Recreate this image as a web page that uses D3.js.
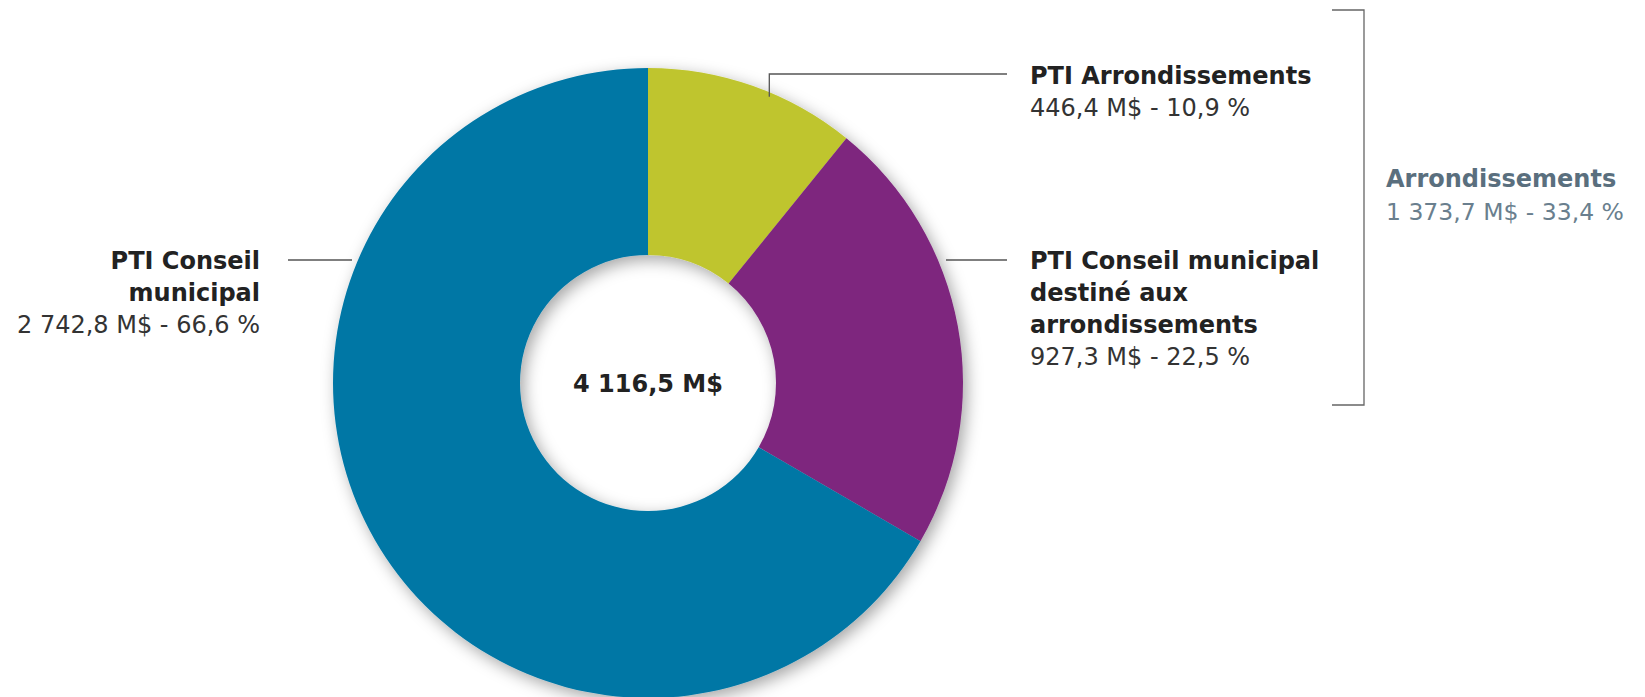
<!DOCTYPE html>
<html>
<head>
<meta charset="utf-8">
<script src="https://cdn.jsdelivr.net/npm/d3@7"></script>
<style>
  html, body { margin: 0; padding: 0; background: #fff; }
  svg { display: block; }
  text { font-family: "DejaVu Sans", "Open Sans", sans-serif; }
</style>
</head>
<body>
<svg id="chart" width="1645" height="697"></svg>
<script>
// ---- Data ----
const categories = ["PTI Arrondissements", "PTI Conseil municipal destiné aux arrondissements", "PTI Conseil municipal"];
const values = [446.4, 927.3, 2742.8];
const valueLabels = ["446,4 M$ - 10,9 %", "927,3 M$ - 22,5 %", "2 742,8 M$ - 66,6 %"];
const titleLines = [["PTI Arrondissements"], ["PTI Conseil municipal", "destiné aux", "arrondissements"], ["PTI Conseil", "municipal"]];
const colors = ["#BFC52F", "#7E287E", "#0077A5"];
const totalLabel = "4 116,5 M$";
const groupTitle = "Arrondissements";
const groupValue = "1 373,7 M$ - 33,4 %";

// ---- Layout ----
const svg = d3.select("#chart");
const cx = 648, cy = 383, R = 315, r = 128;

const defs = svg.append("defs");
const f = defs.append("filter").attr("id", "shadow")
  .attr("x", "-20%").attr("y", "-20%").attr("width", "140%").attr("height", "140%");
f.append("feDropShadow").attr("dx", 4).attr("dy", 5).attr("stdDeviation", 8)
  .attr("flood-color", "#000").attr("flood-opacity", 0.35);

const pie = d3.pie().sort(null).value(d => d)(values);
const arc = d3.arc().innerRadius(r).outerRadius(R);

const g = svg.append("g").attr("transform", `translate(${cx},${cy})`).attr("filter", "url(#shadow)");
g.selectAll("path").data(pie).join("path")
  .attr("d", arc)
  .attr("fill", (d, i) => colors[i]);

// center total
svg.append("text").attr("x", cx).attr("y", cy + 9)
  .attr("text-anchor", "middle").attr("font-weight", 700).attr("font-size", 24)
  .attr("fill", "#222").text(totalLabel);

// leader lines
const lineColor = "#555";
const aY = (pie[0].startAngle + pie[0].endAngle) / 2 + 0.06;
const pY = [Math.sin(aY) * (R - 4), -Math.cos(aY) * (R - 4)];
svg.append("path")
  .attr("d", `M${cx + pY[0]},${cy + pY[1]} V74 H1007`)
  .attr("fill", "none").attr("stroke", lineColor).attr("stroke-width", 1.3);
svg.append("line").attr("x1", 946).attr("x2", 1007).attr("y1", 260).attr("y2", 260)
  .attr("stroke", lineColor).attr("stroke-width", 1.3);
svg.append("line").attr("x1", 288).attr("x2", 352).attr("y1", 260).attr("y2", 260)
  .attr("stroke", lineColor).attr("stroke-width", 1.3);

const fs = 24, lh = 32;
function label(x, y0, anchor, lines, val) {
  const t = svg.append("text").attr("x", x).attr("y", y0).attr("text-anchor", anchor)
    .attr("font-size", fs).attr("fill", "#222");
  lines.forEach((l, i) => {
    t.append("tspan").attr("x", x).attr("dy", i === 0 ? 0 : lh).attr("font-weight", 700).text(l);
  });
  t.append("tspan").attr("x", x).attr("dy", lh).attr("font-weight", 400).attr("fill", "#333").text(val);
}
label(1030, 84, "start", titleLines[0], valueLabels[0]);
label(1030, 269, "start", titleLines[1], valueLabels[1]);
label(260, 269, "end", titleLines[2], valueLabels[2]);

// bracket
svg.append("path").attr("d", "M1332,10 H1364 V405 H1332")
  .attr("fill", "none").attr("stroke", "#666").attr("stroke-width", 1.3);

const gt = svg.append("text").attr("x", 1386).attr("y", 187).attr("font-size", 24).attr("fill", "#5A6F7E");
gt.append("tspan").attr("x", 1386).attr("font-weight", 700).text(groupTitle);
gt.append("tspan").attr("x", 1386).attr("dy", 33).attr("font-weight", 400).attr("font-size", 23.5).attr("fill", "#6A7F8E").text(groupValue);
</script>
</body>
</html>
